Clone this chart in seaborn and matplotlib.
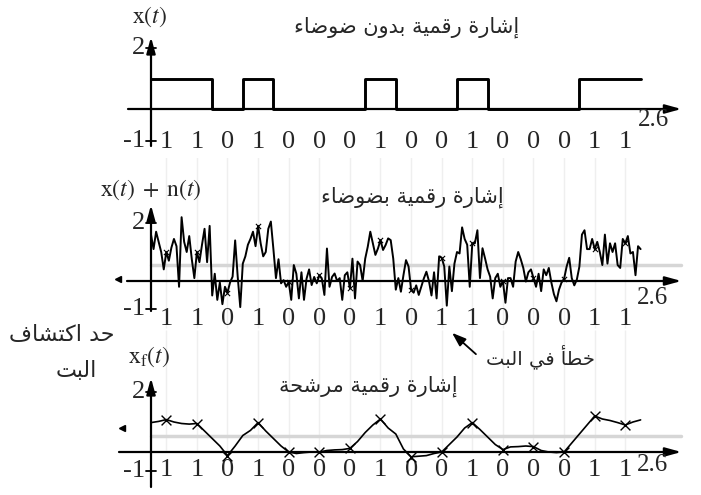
import numpy as np
import matplotlib
matplotlib.use("Agg")
import matplotlib.pyplot as plt
import seaborn as sns

# ---------------------------------------------------------------- data
BIT = 0.15                      # bit duration
T_END = 2.6                     # end of the time axis

sent_bits = [1, 1, 0, 1, 0, 0, 0, 1, 0, 0, 1, 0, 0, 0, 1, 1]
noisy_bits = [1, 1, 0, 1, 0, 0, 0, 1, 0, 1, 1, 0, 0, 0, 1, 1]
filtered_bits = [1, 1, 0, 1, 0, 0, 0, 1, 0, 0, 1, 0, 0, 0, 1, 1]

# received signal x(t)+n(t), twelve samples per bit
noisy_samples = [
    1.6, 1.1, 1.7, 1.35, 1.0, 0.4, 1.0, 0.7, 1.15, 1.45, 1.2, -0.2,
    2.2, 1.35, 1.0, 1.55, 0.75, 0.1, 1.0, 0.65, 1.25, 1.8, 0.65, 1.9,
    -0.5, 0.25, -0.65, -0.05, -0.8, -0.2, -0.4, -0.05, 0.15, 1.4, 0.15, -0.9,
    0.6, 0.85, 1.25, 1.45, 1.7, 1.2, 1.9, 1.3, 0.85, 1.0, 1.8, 2.05,
    1.1, 0.1, 0.75, -0.08, 0.03, -0.2, -0.03, -0.65, 0.55, 0.25, -0.6, 0.3,
    -0.65, 0.08, 0.4, -0.14, 0.14, -0.08, 0.2, 0.08, -0.48, 1.12, -0.2, 0.14,
    0.26, 0.0, 0.1, -0.65, 0.2, 0.3, -0.25, 0.77, -0.6, 0.67, 0.55, 0.0,
    0.77, 1.18, 1.7, 1.3, 0.9, 1.12, 1.41, 1.07, 1.24, 1.47, 1.41, 0.77,
    -0.3, 0.1, -0.37, 0.2, 0.72, 0.5, -0.3, -0.4, -0.15, -0.48, -0.2, 0.09,
    0.32, 0.0, -0.5, 0.3, -0.6, 0.85, 0.8, 0.5, -0.85, 0.5, -0.35, 0.6,
    1.0, 0.95, 1.85, 1.45, 1.25, -0.2, 1.3, 1.3, 1.75, 0.1, 1.13, 0.78,
    0.4, 0.15, -0.6, 0.1, 0.25, -0.2, 0.0, -0.75, 0.1, 0.1, -0.2, 0.67,
    1.0, 0.75, 0.45, -0.02, 0.3, 0.4, 0.1, -0.2, 0.25, -0.35, 0.4, 0.2,
    0.45, -0.05, -0.45, -0.7, -0.3, -0.05, 0.08, 0.5, 0.8, 0.1, -0.15, 0.05,
    0.5, 1.6, 1.75, 1.1, 1.1, 1.45, 1.1, 1.35, 1.0, 0.55, 1.6, 0.6,
    1.3, 1.0, 1.3, 0.55, 0.45, 1.45, 1.3, 1.55, 0.95, 1.0, 0.2, 1.2,
    1.1,
]

# filtered signal x_f(t), four samples per bit
filtered_samples = [
    0.98, 1.02, 1.08, 1.0, 0.95, 0.93, 0.95, 0.7, 0.45, 0.2, -0.12, 0.2,
    0.55, 0.72, 0.98, 0.7, 0.45, 0.2, 0.0, -0.05, -0.02, 0.0, 0.0, 0.05,
    0.07, 0.08, 0.12, 0.35, 0.65, 0.9, 1.1, 0.8, 0.6, 0.1, -0.16, -0.14,
    -0.12, -0.05, 0.0, 0.25, 0.5, 0.8, 0.98, 0.75, 0.5, 0.25, 0.08, 0.17,
    0.18, 0.2, 0.18, 0.05, 0.0, -0.02, 0.0, 0.3, 0.6, 0.9, 1.2, 1.1,
    1.05, 0.98, 0.9, 1.0, 1.07,
]

THRESHOLD = 0.55

# ---------------------------------------------------------------- text
TITLE_CLEAN = "إشارة رقمية بدون ضوضاء"
TITLE_NOISY = "إشارة رقمية بضوضاء"
TITLE_FILTERED = "إشارة رقمية مرشحة"
THRESHOLD_NOTE = ["حد اكتشاف", "البت"]
ERROR_NOTE = "خطأ في البت"

# Arabic contextual forms (presentation forms B): base code point and
# joining type ('D' dual, 'R' right only, None non-joining)
_FORMS = {
    "\u0621": (0xFE80, None), "\u0623": (0xFE83, "R"), "\u0625": (0xFE87, "R"),
    "\u0627": (0xFE8D, "R"), "\u0628": (0xFE8F, "D"), "\u0629": (0xFE93, "R"),
    "\u062A": (0xFE95, "D"), "\u062D": (0xFEA1, "D"), "\u062E": (0xFEA5, "D"),
    "\u062F": (0xFEA9, "R"), "\u0631": (0xFEAD, "R"), "\u0634": (0xFEB5, "D"),
    "\u0636": (0xFEBD, "D"), "\u0637": (0xFEC1, "D"), "\u0641": (0xFED1, "D"),
    "\u0642": (0xFED5, "D"), "\u0643": (0xFED9, "D"), "\u0644": (0xFEDD, "D"),
    "\u0645": (0xFEE1, "D"), "\u0646": (0xFEE5, "D"), "\u0648": (0xFEED, "R"),
    "\u064A": (0xFEF1, "D"),
}


def arabic(text):
    """Join Arabic letters and put them in visual (right-to-left) order."""
    out = []
    for i, ch in enumerate(text):
        if ch not in _FORMS:
            out.append(ch)
            continue
        base, jt = _FORMS[ch]
        prev = text[i - 1] if i > 0 else ""
        nxt = text[i + 1] if i + 1 < len(text) else ""
        jp = jt is not None and prev in _FORMS and _FORMS[prev][1] == "D"
        jn = jt == "D" and nxt in _FORMS and _FORMS[nxt][1] is not None
        off = 3 if (jp and jn) else 1 if jp else 2 if jn else 0
        out.append(chr(base + off))
    return "".join(reversed(out))


# ---------------------------------------------------------------- style
sns.set_theme(style="white")
plt.rcParams["font.family"] = ["DejaVu Sans"]
plt.rcParams["mathtext.fontset"] = "stix"
SERIF = "Liberation Serif"
AR_FONT = "DejaVu Sans"

W, H = 701, 495
X0, PX_T = 151, 204             # pixel column of t=0, pixels per time unit
fig = plt.figure(figsize=(W / 100, H / 100), dpi=100)
fig.patch.set_facecolor("white")


class Panel:
    def __init__(self, top, bottom, zero, ppu):
        self.zero, self.ppu = zero, ppu
        self.ax = fig.add_axes([0, 1 - bottom / H, 1, (bottom - top) / H])
        self.ax.set_xlim(-X0 / PX_T, (W - X0) / PX_T)
        self.ax.set_ylim((zero - bottom) / ppu, (zero - top) / ppu)
        self.ax.set_axis_off()

    def at(self, xp, yp):
        return (xp - X0) / PX_T, (self.zero - yp) / self.ppu


ARROW = dict(arrowstyle="-|>,head_length=0.8,head_width=0.22", color="black",
             lw=1.6, shrinkA=0, shrinkB=0, mutation_scale=12)


def frame(p, x_start_px, y_low_px, y_tip_px, lab2_px, labm1_px, label, label_px,
          title, title_px, bits, bits_y_px, t26_px):
    ax = p.ax
    xs, _ = p.at(x_start_px, 0)
    ax.annotate("", xy=(T_END, 0), xytext=(xs, 0), arrowprops=ARROW)
    ax.annotate("", xy=(0, p.at(0, y_tip_px)[1]), xytext=(0, p.at(0, y_low_px)[1]),
                arrowprops=ARROW)
    tick = 5 / PX_T
    for yp in (lab2_px, labm1_px):
        yv = p.at(0, yp)[1]
        ax.plot([-tick, tick], [yv, yv], color="black", lw=1.3)
    ax.text(*p.at(145, lab2_px), "2", ha="right", va="center",
            family=SERIF, fontsize=19)
    ax.text(*p.at(145, labm1_px), "-1", ha="right", va="center",
            family=SERIF, fontsize=19)
    ax.text(*p.at(*label_px), label, ha="center", va="center", fontsize=17)
    ax.text(*p.at(*title_px), arabic(title), ha="center", va="center",
            family=AR_FONT, fontsize=15)
    centers = (np.arange(len(bits)) + 0.5) * BIT
    yb = p.at(0, bits_y_px)[1]
    for c, b in zip(centers, bits):
        ax.text(c, yb, str(b), ha="center", va="center", family=SERIF, fontsize=19)
    ax.text(*p.at(*t26_px), "2.6", ha="center", va="center", family=SERIF,
            fontsize=18)


centers = (np.arange(len(sent_bits)) + 0.5) * BIT

# ---------------------------------------------------------------- top: clean
top = Panel(0, 158, 109, 30.5)
frame(top, 128, 146, 37, 48, 141, r"$\mathrm{x}(t)$", (149, 17),
      TITLE_CLEAN, (407, 27), sent_bits, 142, (654, 120))
edges = np.arange(len(sent_bits) + 1) * BIT
sns.lineplot(x=edges, y=sent_bits + sent_bits[-1:], ax=top.ax, color="black",
             lw=2.1, drawstyle="steps-post", estimator=None, sort=False)

# ---------------------------------------------------------------- middle: noisy
mid = Panel(158, 330, 281, 29)
mid.ax.vlines(centers, mid.at(0, 328)[1], mid.at(0, 150)[1], color="#efefef",
              lw=1, zorder=0)
frame(mid, 127, 311, 205, 223, 309, r"$\mathrm{x}(t)\;+\;\mathrm{n}(t)$",
      (151, 190), TITLE_NOISY, (412, 197), noisy_bits, 319, (653, 298))
mid.ax.plot([0, T_END], [THRESHOLD, THRESHOLD], color="#d6d6d6", lw=2.5,
            zorder=1)
t_noisy = np.linspace(0, len(sent_bits) * BIT, len(noisy_samples))
sns.lineplot(x=t_noisy, y=noisy_samples, ax=mid.ax, color="black", lw=1.4,
             estimator=None, sort=False, zorder=3)
noisy_arr = np.array(noisy_samples)
sns.scatterplot(x=t_noisy[6::12], y=noisy_arr[6::12], ax=mid.ax, marker="x",
                color="black", s=14, linewidth=0.8, zorder=4)
mid.ax.plot(*mid.at(118, 279), marker="<", color="black", ms=4)

# ---------------------------------------------------------------- bottom: filtered
bot = Panel(330, 495, 452, 30)
bot.ax.vlines(centers, bot.at(0, 450)[1], bot.at(0, 330)[1], color="#efefef",
              lw=1, zorder=0)
frame(bot, 119, 487, 378, 392, 471, r"$\mathrm{x}_\mathrm{f}(t)$", (149, 357),
      TITLE_FILTERED, (368, 386), filtered_bits, 470, (653, 465))
bot.ax.plot([0, T_END], [THRESHOLD, THRESHOLD], color="#d6d6d6", lw=2.5,
            zorder=1)
t_filt = np.linspace(0, len(sent_bits) * BIT, len(filtered_samples))
sns.lineplot(x=t_filt, y=filtered_samples, ax=bot.ax, color="black", lw=1.2,
             estimator=None, sort=False, zorder=3)
filt_arr = np.array(filtered_samples)
sns.scatterplot(x=t_filt[2::4], y=filt_arr[2::4], ax=bot.ax, marker="x",
                color="black", s=50, linewidth=1.0, zorder=4)
bot.ax.plot(*bot.at(122, 428), marker="<", color="black", ms=4)

# ---------------------------------------------------------------- notes
fig.text(62 / W, 1 - 335 / H, arabic(THRESHOLD_NOTE[0]), ha="center",
         va="center", family=AR_FONT, fontsize=16)
fig.text(76 / W, 1 - 371 / H, arabic(THRESHOLD_NOTE[1]), ha="center",
         va="center", family=AR_FONT, fontsize=16)
fig.text(540 / W, 1 - 357 / H, arabic(ERROR_NOTE), ha="center", va="center",
         family=AR_FONT, fontsize=14)
fig.add_artist(matplotlib.patches.FancyArrowPatch(
    (478 / W, 1 - 356 / H), (450 / W, 1 - 331 / H), transform=fig.transFigure,
    arrowstyle="-|>,head_length=0.7,head_width=0.25", mutation_scale=12,
    color="black", lw=1.3))

fig.savefig("out.png", dpi=100, facecolor="white")
